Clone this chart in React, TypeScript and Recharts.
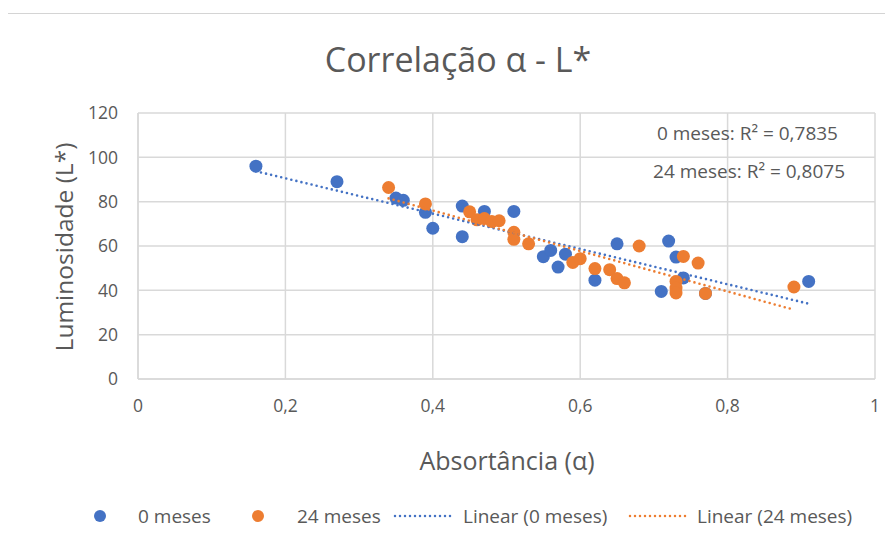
import React from 'react';
import { ScatterChart, Scatter, XAxis, YAxis, CartesianGrid } from 'recharts';

const xTicks = [0, 0.2, 0.4, 0.6, 0.8, 1];
const yTicks = [0, 20, 40, 60, 80, 100, 120];

const absorb0 = [0.16, 0.27, 0.35, 0.36, 0.39, 0.40, 0.44, 0.44, 0.47, 0.51, 0.55, 0.56, 0.57, 0.58, 0.62, 0.65, 0.71, 0.72, 0.73, 0.74, 0.77, 0.91];
const lum0 = [96, 89, 81.6, 80.6, 75.2, 68, 78, 64.2, 75.6, 75.6, 55.2, 58, 50.5, 56.3, 44.6, 61, 39.5, 62.2, 55, 45.6, 38.6, 44];

const absorb24 = [0.34, 0.39, 0.45, 0.46, 0.47, 0.48, 0.49, 0.51, 0.51, 0.53, 0.59, 0.60, 0.62, 0.64, 0.65, 0.66, 0.68, 0.73, 0.73, 0.73, 0.74, 0.76, 0.77, 0.89];
const lum24 = [86.4, 79, 75.4, 71.8, 72.4, 71, 71.4, 66.2, 63, 61, 52.6, 54.3, 49.8, 49.3, 45.3, 43.4, 60, 44, 41, 38.8, 55.3, 52.3, 38.6, 41.5];

const r2Labels = ['0 meses: R\u00b2 = 0,7835', '24 meses: R\u00b2 = 0,8075'];
const seriesNames = ['0 meses', '24 meses', 'Linear (0 meses)', 'Linear (24 meses)'];

const BLUE = '#4472C4';
const ORANGE = '#ED7D31';
const TEXT = '#595959';
const GRID = '#d9d9d9';
const FONT = '"Open Sans", Lato, sans-serif';

const toPoints = (xs: number[], ys: number[]) => xs.map((x, i) => ({ x, y: ys[i] }));

function trend(xs: number[], ys: number[]) {
  const n = xs.length;
  const mx = xs.reduce((a, b) => a + b, 0) / n;
  const my = ys.reduce((a, b) => a + b, 0) / n;
  let sxy = 0, sxx = 0;
  for (let i = 0; i < n; i++) {
    sxy += (xs[i] - mx) * (ys[i] - my);
    sxx += (xs[i] - mx) * (xs[i] - mx);
  }
  const b = sxy / sxx;
  const a = my - b * mx;
  const x0 = Math.min(...xs);
  const x1 = Math.max(...xs);
  return [{ x: x0, y: a + b * x0 }, { x: x1, y: a + b * x1 }];
}

const data0 = toPoints(absorb0, lum0);
const data24 = toPoints(absorb24, lum24);
const trend0 = trend(absorb0, lum0);
const trend24 = trend(absorb24, lum24);

const dot = (color: string) => (p: any) => <circle cx={p.cx} cy={p.cy} r={6.5} fill={color} />;
const noDot = () => <g />;

const fmtX = (v: number) => String(v).replace('.', ',');

export default function App() {
  return (
    <div style={{ position: 'relative', width: 893, height: 547, margin: -8, overflow: 'hidden', background: '#fff' }}>
      <div style={{ position: 'absolute', left: 5, top: 13, width: 920, height: 600, border: '1.5px solid #d4d4d4', boxSizing: 'border-box' }} />
      <ScatterChart width={893} height={547} margin={{ top: 113, right: 18, bottom: 138, left: 0 }} style={{ position: 'absolute', left: 0, top: 0 }}>
        <CartesianGrid stroke={GRID} strokeWidth={1.5} />
        <XAxis
          type="number"
          dataKey="x"
          domain={[0, 1]}
          ticks={xTicks}
          tickFormatter={fmtX}
          tickLine={false}
          tickSize={0}
          tickMargin={21}
          height={30}
          axisLine={{ stroke: GRID, strokeWidth: 1.5 }}
          tick={{ fill: TEXT, fontSize: 17.5, fontFamily: FONT }}
          interval={0}
          label={{
            content: () => (
              <text x={507} y={470} textAnchor="middle" fill={TEXT} fontSize={25} fontFamily={FONT}>Absortância (α)</text>
            ),
          }}
        />
        <YAxis
          type="number"
          dataKey="y"
          domain={[0, 120]}
          ticks={yTicks}
          width={138}
          tickLine={false}
          tickSize={0}
          tickMargin={20}
          axisLine={{ stroke: GRID, strokeWidth: 1.5 }}
          tick={{ fill: TEXT, fontSize: 17.5, fontFamily: FONT }}
          interval={0}
          label={{
            content: () => (
              <text x={73} y={247} transform="rotate(-90 73 247)" textAnchor="middle" fill={TEXT} fontSize={24.5} fontFamily={FONT}>Luminosidade (L*)</text>
            ),
          }}
        />
        <Scatter name={seriesNames[0]} data={data0} shape={dot(BLUE)} isAnimationActive={false} />
        <Scatter name={seriesNames[1]} data={data24} shape={dot(ORANGE)} isAnimationActive={false} />
        <Scatter name={seriesNames[2]} data={trend0} shape={noDot} line={{ stroke: BLUE, strokeWidth: 2.6, strokeDasharray: '0 5.2', strokeLinecap: 'round' }} isAnimationActive={false} />
        <Scatter name={seriesNames[3]} data={trend24} shape={noDot} line={{ stroke: ORANGE, strokeWidth: 2.6, strokeDasharray: '0 5.2', strokeLinecap: 'round' }} isAnimationActive={false} />
      </ScatterChart>
      <svg width={893} height={547} style={{ position: 'absolute', left: 0, top: 0, pointerEvents: 'none' }}>
        <text x={458} y={72} textAnchor="middle" fill={TEXT} fontSize={34} fontFamily={FONT}>Correlação α - L*</text>
        <text x={838} y={140} textAnchor="end" fill={TEXT} fontSize={19} fontFamily={FONT}>{r2Labels[0]}</text>
        <text x={845} y={178} textAnchor="end" fill={TEXT} fontSize={19} fontFamily={FONT}>{r2Labels[1]}</text>
        <g fontFamily={FONT} fontSize={19} fill={TEXT}>
          <circle cx={100} cy={516} r={6} fill={BLUE} />
          <text x={138} y={523}>{seriesNames[0]}</text>
          <circle cx={258} cy={516} r={6} fill={ORANGE} />
          <text x={297} y={523}>{seriesNames[1]}</text>
          <line x1={395} y1={516} x2={455} y2={516} stroke={BLUE} strokeWidth={2.5} strokeDasharray="0 5" strokeLinecap="round" />
          <text x={463} y={523}>{seriesNames[2]}</text>
          <line x1={630} y1={516} x2={690} y2={516} stroke={ORANGE} strokeWidth={2.5} strokeDasharray="0 5" strokeLinecap="round" />
          <text x={697} y={523}>{seriesNames[3]}</text>
        </g>
      </svg>
    </div>
  );
}
